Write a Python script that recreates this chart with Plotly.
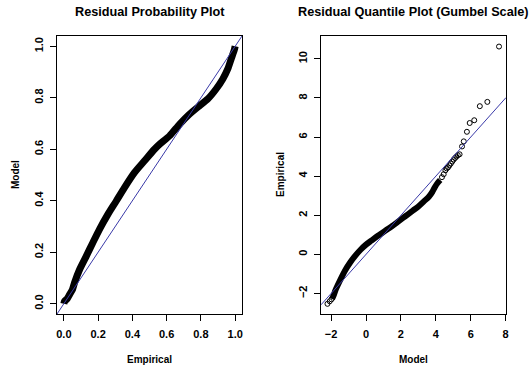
import plotly.graph_objects as go

# ---- Residual Probability Plot data (Empirical, Model) ----
prob_emp = [0.0, 0.004, 0.02, 0.033, 0.05, 0.062, 0.092, 0.131, 0.169, 0.208, 0.257, 0.306, 0.354,
            0.412, 0.471, 0.529, 0.558, 0.617, 0.675, 0.733, 0.792, 0.84, 0.889, 0.928,
            0.957, 0.977, 0.996, 1.0]
prob_mod = [0.0, 0.009, 0.02, 0.035, 0.055, 0.081, 0.133, 0.185, 0.237, 0.289, 0.347, 0.399, 0.451,
            0.509, 0.555, 0.6, 0.619, 0.652, 0.697, 0.736, 0.769, 0.795, 0.834, 0.873,
            0.912, 0.951, 0.988, 1.0]

# ---- Residual Quantile Plot (Gumbel) data (Model, Empirical) ----
# dense central part
q_band_model = [-1.95, -1.85, -1.75, -1.5, -1.2, -0.9, -0.6, -0.3, 0.0, 0.3, 0.6, 0.9, 1.2,
                1.5, 1.8, 2.1, 2.4, 2.7, 3.0, 3.3, 3.6, 3.8, 3.95, 4.1, 4.25]
q_band_emp = [-2.28, -2.08, -1.83, -1.35, -0.82, -0.4, -0.05, 0.25, 0.5, 0.7, 0.9, 1.08, 1.27,
              1.45, 1.65, 1.85, 2.05, 2.25, 2.45, 2.7, 2.95, 3.2, 3.45, 3.65, 3.8]
# sparse individual points
q_pts_model = [-2.21, -2.08, -1.98, 4.35, 4.45, 4.55, 4.62, 4.7, 4.78, 4.86, 4.94, 5.02, 5.1,
               5.18, 5.26, 5.36, 5.5, 5.6, 5.78, 5.94, 6.2, 6.52, 6.95, 7.62]
q_pts_emp = [-2.53, -2.4, -2.3, 3.95, 4.1, 4.3, 4.4, 4.45, 4.55, 4.65, 4.75, 4.85, 4.93,
             5.0, 5.07, 5.12, 5.52, 5.78, 6.27, 6.72, 6.86, 7.58, 7.8, 10.63]

prob_ticks = [0.0, 0.2, 0.4, 0.6, 0.8, 1.0]
prob_ticktext = ["0.0", "0.2", "0.4", "0.6", "0.8", "1.0"]
q_xticks = [-2, 0, 2, 4, 6, 8]
q_yticks = [-2, 0, 2, 4, 6, 8, 10]

prob_range = [-0.04, 1.04]
qx_range = [-2.58, 8.02]
qy_range = [-3.05, 11.17]

FONT = "Liberation Sans, Arial, sans-serif"
LINE_BLUE = "#3a3aa8"

fig = go.Figure()

# left panel: points as thick band
fig.add_trace(go.Scatter(x=prob_emp, y=prob_mod, mode="lines",
                         line=dict(color="black", width=7, shape="spline", smoothing=0.6),
                         xaxis="x", yaxis="y", hoverinfo="skip"))
fig.add_trace(go.Scatter(x=prob_range, y=prob_range, mode="lines",
                         line=dict(color=LINE_BLUE, width=1), xaxis="x", yaxis="y"))

# right panel
fig.add_trace(go.Scatter(x=q_band_model, y=q_band_emp, mode="lines",
                         line=dict(color="black", width=6, shape="spline", smoothing=0.6),
                         xaxis="x2", yaxis="y2"))
fig.add_trace(go.Scatter(x=q_pts_model, y=q_pts_emp, mode="markers",
                         marker=dict(symbol="circle-open", size=5, color="black",
                                     line=dict(width=1, color="black")),
                         xaxis="x2", yaxis="y2"))
fig.add_trace(go.Scatter(x=qx_range, y=qx_range, mode="lines",
                         line=dict(color=LINE_BLUE, width=1), xaxis="x2", yaxis="y2"))

W, H = 531, 371
ydom = [1 - 314 / H, 1 - 36 / H]

axis_common = dict(showline=True, mirror=True, linecolor="black", linewidth=1,
                   ticks="outside", ticklen=6, tickwidth=1, tickcolor="black",
                   showgrid=False, zeroline=False, automargin=False,
                   tickfont=dict(family=FONT, size=11, color="black", weight="bold"))

fig.update_layout(
    width=W, height=H, margin=dict(l=0, r=0, t=0, b=0),
    paper_bgcolor="white", plot_bgcolor="white", showlegend=False,
    xaxis=dict(domain=[57 / W, 242 / W], range=prob_range, tickvals=prob_ticks,
               ticktext=prob_ticktext, anchor="y", ticklabelstandoff=4, **axis_common),
    yaxis=dict(domain=ydom, range=prob_range, tickvals=prob_ticks,
               ticktext=prob_ticktext, tickangle=-90, anchor="x", ticklabelstandoff=3,
               **axis_common),
    xaxis2=dict(domain=[321 / W, 506 / W], range=qx_range, tickvals=q_xticks,
                anchor="y2", ticklabelstandoff=4, **axis_common),
    yaxis2=dict(domain=ydom, range=qy_range, tickvals=q_yticks, tickangle=-90,
                anchor="x2", ticklabelstandoff=3, **axis_common),
)

def ann(text, x, y, size, angle=0):
    fig.add_annotation(text=text, x=x / W, y=1 - y / H, xref="paper", yref="paper",
                       showarrow=False, textangle=angle, xanchor="center", yanchor="middle",
                       font=dict(family=FONT, size=size, color="black", weight="bold"))

ann("Residual Probability Plot", 149.5, 12, 12.7)
ann("Residual Quantile Plot (Gumbel Scale)", 413.5, 12, 12.7)
ann("Empirical", 149.5, 359, 10)
ann("Model", 15, 175, 10, -90)
ann("Model", 413.5, 359, 10)
ann("Empirical", 280, 175, 10, -90)

fig.write_html("out.html")
